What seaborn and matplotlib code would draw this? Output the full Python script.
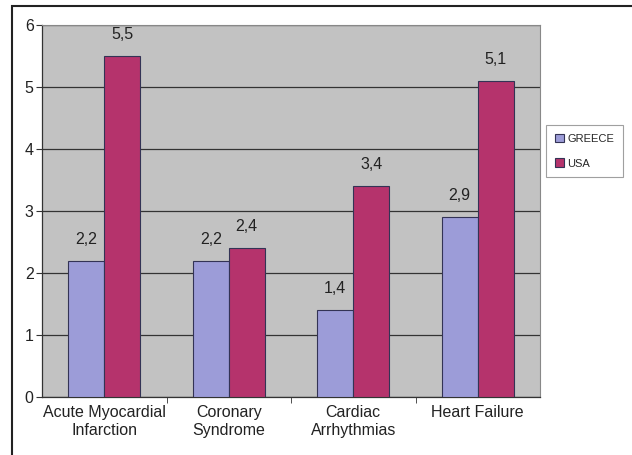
import matplotlib
matplotlib.use("Agg")
import matplotlib.pyplot as plt
import seaborn as sns
import pandas as pd
from matplotlib.patches import Rectangle

categories = ["Acute Myocardial\nInfarction", "Coronary\nSyndrome", "Cardiac\nArrhythmias", "Heart Failure"]
series = ["GREECE", "USA"]
greece = [2.2, 2.2, 1.4, 2.9]
usa = [5.5, 2.4, 3.4, 5.1]
colors = ["#9c9cd8", "#b5336c"]

df = pd.DataFrame({
    "category": categories * 2,
    "series": [series[0]] * 4 + [series[1]] * 4,
    "value": greece + usa,
})

sns.set_style("white")
plt.rcParams["font.family"] = ["Liberation Sans", "DejaVu Sans"]

fig = plt.figure(figsize=(6.32, 4.55), dpi=100)
ax = fig.add_axes([42/632, 1-397/455, 498/632, 372/455])
sns.barplot(data=df, x="category", y="value", hue="series", palette=colors, saturation=1,
            width=0.58, edgecolor="#333355", linewidth=0.8, ax=ax, zorder=3)
ax.set_facecolor("#c2c2c2")
ax.set_ylim(0, 6)
ax.set_xlim(-0.5, 3.5)
ax.set_yticks(range(0, 7))
ax.yaxis.grid(True, color="#333333", linewidth=0.9, zorder=0)
ax.set_axisbelow(True)
ax.set_xlabel("")
ax.set_ylabel("")
for s in ["top", "right"]:
    ax.spines[s].set_color("#888888")
    ax.spines[s].set_linewidth(0.8)
for s in ["left", "bottom"]:
    ax.spines[s].set_color("#333333")
    ax.spines[s].set_linewidth(0.9)
ax.tick_params(axis="y", labelsize=11.5, length=4, direction="out", left=True, pad=2, color="#333333", labelcolor="#222222")
ax.tick_params(axis="x", labelsize=11.5, length=0, pad=6, labelcolor="#222222")
ax.set_xticks([0.5, 1.5, 2.5], minor=True)
ax.tick_params(axis="x", which="minor", length=4, bottom=True, color="#333333")

for cont in ax.containers:
    ax.bar_label(cont, labels=[f"{v:.1f}".replace(".", ",") for v in cont.datavalues],
                 padding=10, fontsize=11.5, color="#222222")

leg = ax.legend(loc="upper left", bbox_to_anchor=(546/632, 1-125/455), bbox_transform=fig.transFigure,
                borderaxespad=0, frameon=True, fancybox=False, edgecolor="#888888", fontsize=8,
                handlelength=0.8, handleheight=0.8, handletextpad=0.3, labelspacing=1.3,
                borderpad=0.8)
leg.get_frame().set_linewidth(0.8)

fig.patches.append(Rectangle((12/632, -0.1), 1.2, 1.1-6/455, transform=fig.transFigure,
                             fill=False, edgecolor="#222222", linewidth=1.5))

fig.savefig("out.png", dpi=100)
